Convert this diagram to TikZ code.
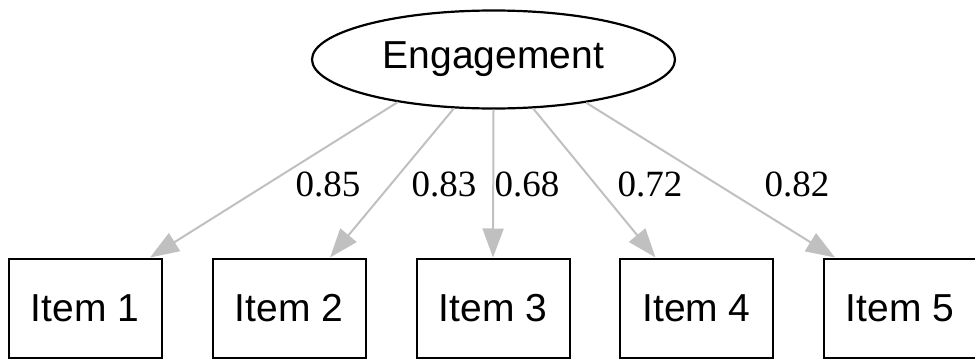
\documentclass[tikz,border=0pt]{standalone}
\usepackage{fontspec}
\setmainfont{Liberation Serif}
\newfontfamily\arialfont{Liberation Sans}
\usetikzlibrary{shapes.geometric,arrows.meta,calc}
\definecolor{edgegray}{HTML}{C0C0C0}
\begin{document}
\begin{tikzpicture}[x=1pt,y=-1pt,
  latent/.style={ellipse,draw=black,line width=2.2pt,inner sep=0pt,minimum width=363pt,minimum height=98pt,font=\arialfont\fontsize{39}{42}\selectfont},
  itembox/.style={rectangle,draw=black,line width=2pt,inner sep=0pt,minimum width=153pt,minimum height=99pt,font=\arialfont\fontsize{39}{42}\selectfont},
  loading/.style={draw=edgegray,line width=2pt,-{Triangle[length=29pt,width=21pt]},fill=edgegray},
  coef/.style={inner sep=0pt,font=\fontsize{37}{40}\selectfont}
]
\useasboundingbox (0,0) rectangle (975,359);
\node[latent] (eng) at (493.5,59.5) {Engagement};
\node[itembox] (i1) at (85,308) {Item 1};
\node[itembox] (i2) at (289,308) {Item 2};
\node[itembox] (i3) at (493,308) {Item 3};
\node[itembox] (i4) at (696.5,308) {Item 4};
\node[itembox] (i5) at (900,308) {Item 5};
\draw[loading] (eng.204) -- ($(i1.north)+(65,0)$);
\draw[loading] (eng.231) -- ($(i2.north)+(41,0)$);
\draw[loading] (eng.270) -- (i3.north);
\draw[loading] (eng.309) -- ($(i4.north)+(-41,0)$);
\draw[loading] (eng.335.6) -- ($(i5.north)+(-65,0)$);
\node[coef] (l1) at (328,184) {0.85};
\node[coef] (l2) at (444,184) {0.83};
\node[coef] (l3) at (527,184) {0.68};
\node[coef] (l4) at (650,184) {0.72};
\node[coef] (l5) at (797,184) {0.82};
\end{tikzpicture}
\end{document}
